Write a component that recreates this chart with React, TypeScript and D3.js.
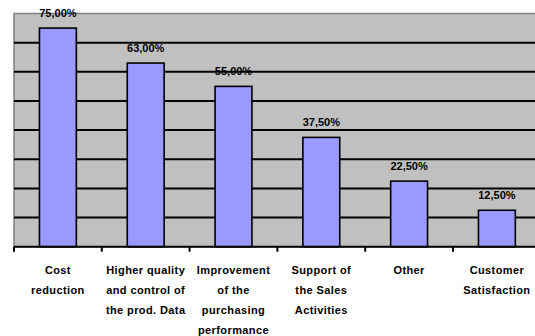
import React from "react";
import * as d3 from "d3";

const categories: string[][] = [
  ["Cost", "reduction"],
  ["Higher quality", "and control of", "the prod. Data"],
  ["Improvement", "of the", "purchasing", "performance"],
  ["Support of", "the Sales", "Activities"],
  ["Other"],
  ["Customer", "Satisfaction"],
];
const values: number[] = [75, 63, 55, 37.5, 22.5, 12.5];
const valueLabels: string[] = ["75,00%", "63,00%", "55,00%", "37,50%", "22,50%", "12,50%"];
const yTicks: number[] = [0, 10, 20, 30, 40, 50, 60, 70, 80];

const W = 535;
const H = 336;
const plot = { left: 14, right: 540.8, top: 13.5, bottom: 246.7 };

export default function App() {
  const keys = categories.map((_, i) => String(i));
  const x = d3
    .scaleBand<string>()
    .domain(keys)
    .range([plot.left, plot.right])
    .paddingInner(0.58)
    .paddingOuter(0.29);
  const y = d3.scaleLinear().domain([0, 80]).range([plot.bottom, plot.top]);
  const step = x.step();
  const font = "'Liberation Sans', Arial, sans-serif";

  return (
    <svg
      width={W}
      height={H}
      style={{ position: "absolute", left: 0, top: 0, background: "#fff" }}
    >
      {/* plot area */}
      <rect
        x={plot.left}
        y={plot.top}
        width={plot.right - plot.left}
        height={plot.bottom - plot.top}
        fill="#c0c0c0"
        stroke="#808080"
        strokeWidth={1.5}
      />
      {/* horizontal gridlines */}
      {yTicks.slice(1, -1).map((t) => (
        <line
          key={t}
          x1={plot.left}
          x2={plot.right}
          y1={y(t)}
          y2={y(t)}
          stroke="#000"
          strokeWidth={2}
        />
      ))}
      {/* bars */}
      {values.map((v, i) => (
        <rect
          key={i}
          x={x(String(i))}
          y={y(v)}
          width={x.bandwidth()}
          height={y(0) - y(v)}
          fill="#9999ff"
          stroke="#000"
          strokeWidth={1.6}
        />
      ))}
      {/* value labels */}
      {values.map((v, i) => (
        <text
          key={i}
          x={(x(String(i)) as number) + x.bandwidth() / 2}
          y={y(v) - 11}
          textAnchor="middle"
          fontFamily={font}
          fontWeight="bold"
          fontSize={11}
          fill="#000"
        >
          {valueLabels[i]}
        </text>
      ))}
      {/* category axis */}
      <line
        x1={plot.left}
        x2={plot.right}
        y1={plot.bottom}
        y2={plot.bottom}
        stroke="#000"
        strokeWidth={2}
      />
      {d3.range(categories.length + 1).map((k) => (
        <line
          key={k}
          x1={plot.left + k * step}
          x2={plot.left + k * step}
          y1={plot.bottom}
          y2={plot.bottom + 5}
          stroke="#000"
          strokeWidth={2}
        />
      ))}
      {categories.map((lines, i) => (
        <text
          key={i}
          textAnchor="middle"
          fontFamily={font}
          fontWeight="bold"
          fontSize={11}
          letterSpacing={0.4}
          fill="#000"
        >
          {lines.map((ln, j) => (
            <tspan
              key={j}
              x={(x(String(i)) as number) + x.bandwidth() / 2}
              y={274 + j * 20}
            >
              {ln}
            </tspan>
          ))}
        </text>
      ))}
    </svg>
  );
}
